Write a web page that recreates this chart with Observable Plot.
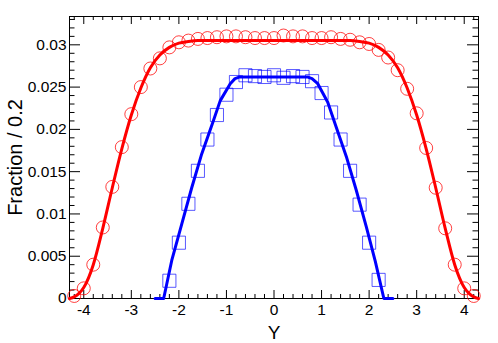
<!DOCTYPE html>
<html>
<head>
<meta charset="utf-8">
<script src="https://cdn.jsdelivr.net/npm/d3@7"></script>
<script src="https://cdn.jsdelivr.net/npm/@observablehq/plot@0.6"></script>
<style>
  html, body { margin: 0; padding: 0; background: #fff; }
  #chart { width: 498px; height: 343px; }
</style>
</head>
<body>
<div id="chart"></div>
<script>
// ---- Data ----
const redX = [-4.2,-4.0,-3.8,-3.6,-3.4,-3.2,-3.0,-2.8,-2.6,-2.4,-2.2,-2.0,-1.8,-1.6,-1.4,-1.2,-1.0,-0.8,-0.6,-0.4,-0.2,0.0,
              0.2,0.4,0.6,0.8,1.0,1.2,1.4,1.6,1.8,2.0,2.2,2.4,2.6,2.8,3.0,3.2,3.4,3.6,3.8,4.0,4.2];
const redY = [0.0003,0.0012,0.0040,0.0084,0.0132,0.0179,0.0218,0.0250,0.0272,0.0284,0.0297,0.0303,0.0305,0.0307,0.0308,0.0309,0.0310,0.0310,0.0309,0.0308,0.0308,0.0308,
              0.0311,0.0310,0.0310,0.0308,0.0308,0.0309,0.0307,0.0306,0.0303,0.0301,0.0294,0.0285,0.0270,0.0248,0.0219,0.0178,0.0131,0.0083,0.0040,0.0012,0.0003];

const blueX = [-2.2,-2.0,-1.8,-1.6,-1.4,-1.2,-1.0,-0.8,-0.6,-0.4,-0.2,0.0,0.2,0.4,0.6,0.8,1.0,1.2,1.4,1.6,1.8,2.0,2.2];
const blueY = [0.0021,0.0066,0.0112,0.0151,0.0188,0.0217,0.0241,0.0256,0.0264,0.0263,0.0262,0.0264,0.0261,0.0263,0.0262,0.0257,0.0243,0.0220,0.0188,0.0151,0.0111,0.0066,0.0022];

const redFitX = [-4.3,-4.2,-4.1,-4.0,-3.8,-3.6,-3.4,-3.2,-3.0,-2.8,-2.6,-2.4,-2.2,-2.0,-1.8,-1.6,-1.4,-1.0,0.0,
                 1.0,1.4,1.6,1.8,2.0,2.2,2.4,2.6,2.8,3.0,3.2,3.4,3.6,3.8,4.0,4.1,4.2,4.3];
const redFitY = [0.0000,0.0002,0.0006,0.0013,0.0040,0.0083,0.0131,0.0177,0.0217,0.0249,0.0273,0.0288,0.0297,0.0302,0.0304,0.0305,0.0305,0.0305,0.0305,
                 0.0305,0.0305,0.0305,0.0304,0.0302,0.0297,0.0288,0.0273,0.0249,0.0217,0.0177,0.0131,0.0083,0.0040,0.0013,0.0006,0.0002,0.0000];

const blueFitX = [-2.5,-2.32,-2.15,-1.94,-1.73,-1.52,-1.3,-1.13,-0.92,-0.82,-0.72,0.70,0.80,0.92,1.13,1.3,1.52,1.73,1.94,2.13,2.31,2.5];
const blueFitY = [0,0,0.0045,0.0088,0.0131,0.0171,0.0206,0.0234,0.0254,0.0260,0.0262,0.0262,0.0260,0.0254,0.0232,0.0204,0.0168,0.0128,0.0085,0.0044,0,0];

const xTicks = [-4,-3,-2,-1,0,1,2,3,4];
const xTickLabels = ["-4","-3","-2","-1","0","1","2","3","4"];
const yTicks = [0,0.005,0.01,0.015,0.02,0.025,0.03];
const yTickLabels = ["0","0.005","0.01","0.015","0.02","0.025","0.03"];
const xTitle = "Y";
const yTitle = "Fraction / 0.2";

// minor tick positions (axis decoration)
const xMinor = d3.range(-21, 22).map(i => i / 5).filter(v => Math.abs(v - Math.round(v)) > 1e-6);
const yMinor = d3.range(1, 34).map(i => i / 1000).filter(v => Math.abs(v*200 - Math.round(v*200)) > 1e-6);

const red = redX.map((x, i) => ({x, y: redY[i]}));
const blue = blueX.map((x, i) => ({x, y: blueY[i]}));
const redFit = redFitX.map((x, i) => ({x, y: redFitY[i]}));
const blueFit = blueFitX.map((x, i) => ({x, y: blueFitY[i]}));

const W = 498, H = 343, mT = 16, mR = 20, mB = 45, mL = 69;
const iw = W - mL - mR, ih = H - mT - mB;

const chart = Plot.plot({
  width: W, height: H,
  marginTop: mT, marginRight: mR, marginBottom: mB, marginLeft: mL,
  x: {domain: [-4.3, 4.3]},
  y: {domain: [0, 0.03335]},
  style: {fontFamily: "'Liberation Sans', Arial, Helvetica, sans-serif", fontSize: "15.5px", background: "white", color: "black"},
  marks: [
    // inward ticks, bottom & top
    Plot.tickX(xTicks, {x: d => d, insetTop: ih - 8, stroke: "black"}),
    Plot.tickX(xMinor, {x: d => d, insetTop: ih - 4, stroke: "black"}),
    Plot.tickX(xTicks, {x: d => d, insetBottom: ih - 8, stroke: "black"}),
    Plot.tickX(xMinor, {x: d => d, insetBottom: ih - 4, stroke: "black"}),
    // inward ticks, left & right
    Plot.tickY(yTicks, {y: d => d, insetRight: iw - 11, stroke: "black"}),
    Plot.tickY(yMinor, {y: d => d, insetRight: iw - 5.5, stroke: "black"}),
    Plot.tickY(yTicks, {y: d => d, insetLeft: iw - 11, stroke: "black"}),
    Plot.tickY(yMinor, {y: d => d, insetLeft: iw - 5.5, stroke: "black"}),
    // frame (drawn under the data, as in the reference)
    Plot.frame({stroke: "black", strokeWidth: 1}),
    // tick labels
    Plot.axisX({ticks: xTicks, tickSize: 0, tickPadding: 5, label: null,
      tickFormat: d => xTickLabels[xTicks.indexOf(d)], fontSize: 15.5}),
    Plot.axisY({ticks: yTicks, tickSize: 0, tickPadding: 3, label: null,
      tickFormat: d => yTickLabels[yTicks.indexOf(d)], fontSize: 15.5}),
    // markers
    Plot.dot(red, {x: "x", y: "y", r: 6.5, symbol: "circle", stroke: "#ff0000", strokeOpacity: 0.75, strokeWidth: 1, fill: "none"}),
    Plot.dot(blue, {x: "x", y: "y", r: 7.4, symbol: "square", stroke: "#0000ff", strokeOpacity: 0.65, strokeWidth: 1, fill: "none"}),
    // fitted curves
    Plot.line(redFit, {x: "x", y: "y", stroke: "#ff0000", strokeWidth: 3, curve: "monotone-x"}),
    Plot.line(blueFit, {x: "x", y: "y", stroke: "#0000ff", strokeWidth: 3, curve: "linear"}),
    // titles
    Plot.text([xTitle], {frameAnchor: "bottom", dy: 34, textAnchor: "middle", lineAnchor: "middle", fontSize: 19, fill: "black"}),
    Plot.text([yTitle], {frameAnchor: "left", dx: -54, rotate: -90, textAnchor: "middle", lineAnchor: "middle", fontSize: 20, fill: "black"})
  ]
});
document.getElementById("chart").appendChild(chart);
</script>
</body>
</html>
